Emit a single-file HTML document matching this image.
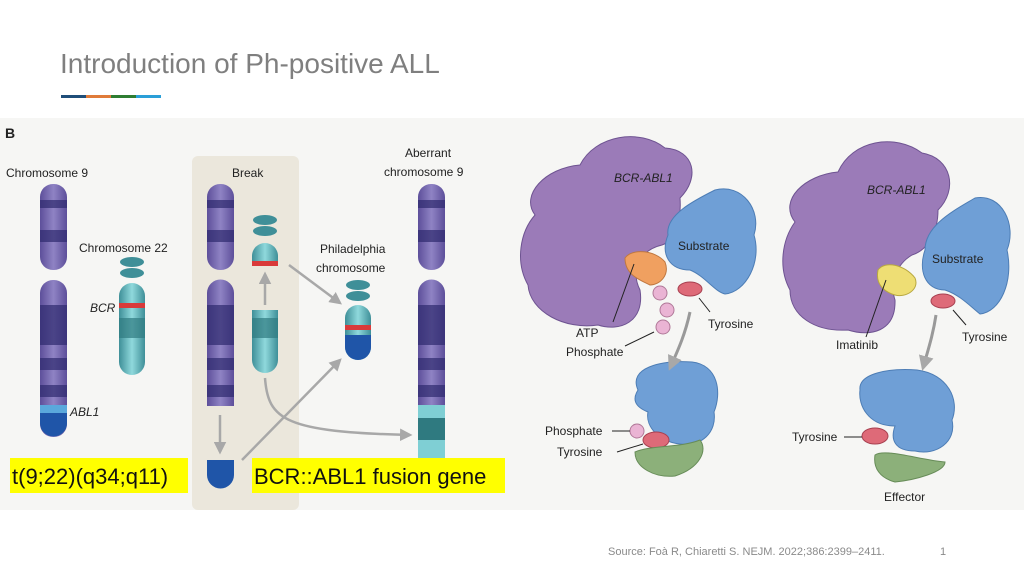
<!DOCTYPE html>
<html><head><meta charset="utf-8"><style>
body{margin:0;width:1024px;height:576px;background:#fff;overflow:hidden;font-family:"Liberation Sans",sans-serif}
</style></head><body>
<svg width="1024" height="576" viewBox="0 0 1024 576" xmlns="http://www.w3.org/2000/svg" font-family="Liberation Sans, DejaVu Sans, sans-serif">
<defs>
<linearGradient id="pur" x1="0" x2="1"><stop offset="0" stop-color="#5d4f9a"/><stop offset=".5" stop-color="#8f83c4"/><stop offset="1" stop-color="#5d4f9a"/></linearGradient>
<linearGradient id="tea" x1="0" x2="1"><stop offset="0" stop-color="#3f8f98"/><stop offset=".5" stop-color="#8fd9dc"/><stop offset="1" stop-color="#3f8f98"/></linearGradient>
<marker id="ah" viewBox="0 0 10 10" refX="8" refY="5" markerWidth="5" markerHeight="5" orient="auto"><path d="M0,0L10,5L0,10z" fill="#a8a8a8"/></marker>
</defs>
<text x="60" y="73" font-size="28" fill="#7f7f7f">Introduction of Ph-positive ALL</text>
<rect x="61" y="95" width="25" height="3" fill="#1f4e79"/><rect x="86" y="95" width="25" height="3" fill="#e07b39"/><rect x="111" y="95" width="25" height="3" fill="#2e7d32"/><rect x="136" y="95" width="25" height="3" fill="#2a9fd8"/>
<rect x="0" y="118" width="1024" height="392" fill="#f6f6f4"/>
<rect x="192" y="156" width="107" height="354" rx="6" fill="#ebe7dc"/>
<text x="5" y="138" font-size="14" font-weight="bold" fill="#222">B</text>
<g font-size="12" fill="#222">
<text x="6" y="177">Chromosome 9</text>
<text x="79" y="252">Chromosome 22</text>
<text x="90" y="312" font-style="italic">BCR</text>
<text x="70" y="416" font-style="italic">ABL1</text>
<text x="232" y="177">Break</text>
<text x="320" y="253">Philadelphia</text>
<text x="316" y="272">chromosome</text>
<text x="405" y="157">Aberrant</text>
<text x="384" y="176">chromosome 9</text>
</g>
<g>
<rect x="40" y="184" width="27" height="86" rx="13" fill="url(#pur)"/>
<rect x="40" y="280" width="27" height="157" rx="13" fill="url(#pur)"/>
<rect x="40" y="200" width="27" height="8" fill="#2e2a6e" opacity=".7"/><rect x="40" y="230" width="27" height="12" fill="#2e2a6e" opacity=".7"/>
<rect x="40" y="305" width="27" height="40" fill="#2e2a6e" opacity=".7"/><rect x="40" y="358" width="27" height="12" fill="#2e2a6e" opacity=".7"/><rect x="40" y="385" width="27" height="12" fill="#2e2a6e" opacity=".7"/>
<rect x="40" y="405" width="27" height="8" fill="#5aa8dc"/><path d="M40,413h27v10a13.5,13.5 0 0 1 -27,0z" fill="#1f55a8"/>
</g>
<g>
<ellipse cx="132" cy="262" rx="12" ry="5" fill="#3f8f98"/><ellipse cx="132" cy="273" rx="12" ry="5" fill="#3f8f98"/>
<rect x="119" y="283" width="26" height="92" rx="13" fill="url(#tea)"/>
<rect x="119" y="303" width="26" height="5" fill="#d93a3a"/><rect x="119" y="318" width="26" height="20" fill="#2f7a80" opacity=".7"/>
</g>
<g>
<rect x="207" y="184" width="27" height="86" rx="13" fill="url(#pur)"/>
<path d="M207,293a13.5,13.5 0 0 1 27,0v113h-27z" fill="url(#pur)"/>
<rect x="207" y="200" width="27" height="8" fill="#2e2a6e" opacity=".7"/><rect x="207" y="230" width="27" height="12" fill="#2e2a6e" opacity=".7"/>
<rect x="207" y="305" width="27" height="40" fill="#2e2a6e" opacity=".7"/><rect x="207" y="358" width="27" height="12" fill="#2e2a6e" opacity=".7"/><rect x="207" y="385" width="27" height="12" fill="#2e2a6e" opacity=".7"/>
<path d="M207,460h27v15a13.5,13.5 0 0 1 -27,0z" fill="#1f55a8"/>
<ellipse cx="265" cy="220" rx="12" ry="5" fill="#3f8f98"/><ellipse cx="265" cy="231" rx="12" ry="5" fill="#3f8f98"/>
<path d="M252,266v-10a13,13 0 0 1 26,0v10z" fill="url(#tea)"/><rect x="252" y="261" width="26" height="5" fill="#d93a3a"/>
<path d="M252,310h26v50a13,13 0 0 1 -26,0z" fill="url(#tea)"/><rect x="252" y="318" width="26" height="20" fill="#2f7a80" opacity=".7"/>
</g>
<g>
<ellipse cx="358" cy="285" rx="12" ry="5" fill="#3f8f98"/><ellipse cx="358" cy="296" rx="12" ry="5" fill="#3f8f98"/>
<rect x="345" y="305" width="26" height="55" rx="13" fill="url(#tea)"/>
<rect x="345" y="325" width="26" height="5" fill="#d93a3a"/><path d="M345,335h26v12a13,13 0 0 1 -26,0z" fill="#1f55a8"/>
</g>
<g>
<rect x="418" y="184" width="27" height="86" rx="13" fill="url(#pur)"/>
<path d="M418,293a13.5,13.5 0 0 1 27,0v200h-27z" fill="url(#pur)"/>
<rect x="418" y="200" width="27" height="8" fill="#2e2a6e" opacity=".7"/><rect x="418" y="230" width="27" height="12" fill="#2e2a6e" opacity=".7"/>
<rect x="418" y="305" width="27" height="40" fill="#2e2a6e" opacity=".7"/><rect x="418" y="358" width="27" height="12" fill="#2e2a6e" opacity=".7"/><rect x="418" y="385" width="27" height="12" fill="#2e2a6e" opacity=".7"/>
<rect x="418" y="405" width="27" height="60" fill="#7fcfd4"/><rect x="418" y="418" width="27" height="22" fill="#2f7a80"/>
</g>
<g stroke="#a8a8a8" stroke-width="2.5" fill="none" marker-end="url(#ah)">
<line x1="265" y1="305" x2="265" y2="274"/>
<line x1="289" y1="265" x2="340" y2="303"/>
<line x1="220" y1="415" x2="220" y2="452"/>
<line x1="242" y1="460" x2="340" y2="360"/>
<path d="M265,378C268,420 285,432 410,435"/>
</g>
<rect x="10" y="458" width="178" height="35" fill="#ffff00"/>
<text x="12" y="484" font-size="22" fill="#111">t(9;22)(q34;q11)</text>
<rect x="252" y="458" width="253" height="35" fill="#ffff00"/>
<text x="254" y="484" font-size="22" fill="#111">BCR::ABL1 fusion gene</text>
<g fill="#9b7bb8" stroke="#6e5391" stroke-width="1">
<path d="M535,215C520,195 545,168 580,165C595,135 640,128 665,148C695,150 700,178 680,198C682,225 672,242 662,245C640,250 630,270 640,290C645,322 620,332 598,325C565,330 530,312 528,285C515,262 520,232 535,215z"/>
<path d="M795,222C778,200 805,175 838,172C852,140 895,133 922,153C952,158 958,190 938,210C938,232 928,250 912,255C895,265 890,285 895,300C896,332 870,337 848,330C815,332 790,316 790,290C778,268 782,240 795,222z"/>
</g>
<g fill="#6f9fd6" stroke="#4d7db5">
<path d="M668,235C665,215 695,200 715,190C742,183 762,210 754,235C762,262 746,292 725,294C715,292 705,276 690,270C670,270 660,255 668,235z"/>
<path d="M925,250C925,225 955,210 975,198C1002,193 1017,225 1007,250C1014,282 1000,312 980,314C970,306 960,295 945,290C925,290 918,270 925,250z"/>
<path d="M638,390C628,368 660,360 692,362C718,365 722,392 714,412C717,432 702,447 680,444C660,442 645,427 648,412C633,406 633,398 638,390z"/>
<path d="M860,390C858,373 890,368 917,370C948,374 960,400 952,420C957,442 936,456 915,451C895,451 890,440 895,426C868,426 858,405 860,390z"/>
</g>
<path d="M625,258C632,248 655,250 665,262C670,275 660,285 650,285C640,280 625,275 625,258z" fill="#f0a060" stroke="#c07840"/>
<path d="M878,270C885,260 905,265 915,278C920,290 905,298 895,295C885,292 875,285 878,270z" fill="#eede74" stroke="#b8a840"/>
<g fill="#eab4d4" stroke="#b07898"><circle cx="660" cy="293" r="7"/><circle cx="667" cy="310" r="7"/><circle cx="663" cy="327" r="7"/><circle cx="637" cy="431" r="7"/></g>
<g fill="#de6a78" stroke="#a84050"><ellipse cx="690" cy="289" rx="12" ry="7"/><ellipse cx="943" cy="301" rx="12" ry="7"/><ellipse cx="656" cy="440" rx="13" ry="8"/><ellipse cx="875" cy="436" rx="13" ry="8"/></g>
<g fill="#8cb07a" stroke="#678c58"><path d="M635,452C650,445 680,448 700,440C708,450 700,468 675,476C655,478 635,468 635,452z"/><path d="M875,455C885,448 920,460 945,462C945,472 915,480 895,482C880,478 873,468 875,455z"/></g>
<g stroke="#999" stroke-width="3" fill="none" marker-end="url(#ah)"><path d="M690,312C685,335 678,350 670,368"/><path d="M936,315C933,335 928,350 923,368"/></g>
<g stroke="#222" stroke-width="1"><line x1="634" y1="264" x2="613" y2="322"/><line x1="654" y1="332" x2="625" y2="346"/><line x1="699" y1="298" x2="710" y2="312"/><line x1="953" y1="310" x2="966" y2="325"/><line x1="886" y1="280" x2="866" y2="337"/><line x1="612" y1="431" x2="630" y2="431"/><line x1="617" y1="452" x2="643" y2="444"/><line x1="844" y1="437" x2="862" y2="437"/></g>
<g font-size="12" fill="#222">
<text x="614" y="182" font-style="italic">BCR-ABL1</text>
<text x="678" y="250">Substrate</text>
<text x="576" y="337">ATP</text>
<text x="566" y="356">Phosphate</text>
<text x="708" y="328">Tyrosine</text>
<text x="545" y="435">Phosphate</text>
<text x="557" y="456">Tyrosine</text>
<text x="867" y="194" font-style="italic">BCR-ABL1</text>
<text x="932" y="263">Substrate</text>
<text x="836" y="349">Imatinib</text>
<text x="962" y="341">Tyrosine</text>
<text x="792" y="441">Tyrosine</text>
<text x="884" y="501">Effector</text>
</g>
<text x="608" y="555" font-size="11" fill="#8a8a8a">Source: Foà R, Chiaretti S. NEJM. 2022;386:2399–2411.</text>
<text x="940" y="555" font-size="11" fill="#8a8a8a">1</text>
</svg>
</body></html>
